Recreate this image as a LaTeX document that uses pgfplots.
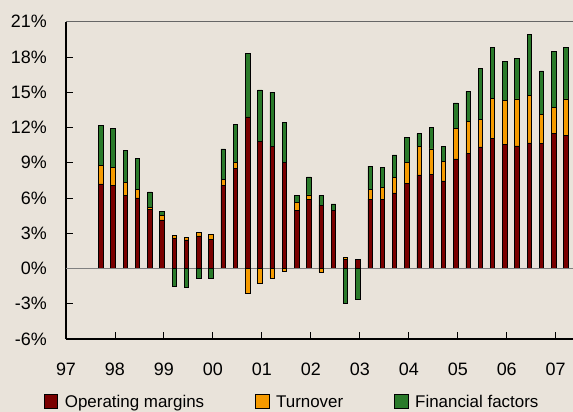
\documentclass[border=0pt]{standalone}
\usepackage{fontspec}
\setmainfont{Liberation Sans}
\usepackage{pgfplots}
\usepackage{pgfplotstable}
\pgfplotsset{compat=1.18}
\definecolor{bg}{HTML}{E9E3DA}
\definecolor{om}{HTML}{7A0000}
\definecolor{tu}{HTML}{F59A00}
\definecolor{ff}{HTML}{2A7A2A}
\pgfplotstableread{
x     om     tp    fp
0.71  7.20   1.60  3.35
0.96  7.10   1.50  3.30
1.21  6.25   1.05  2.75
1.46  6.00   0.75  2.65
1.71  5.00   0.22  1.30
1.96  4.13   0.35  0.40
2.21  2.55   0.25  0
2.46  2.43   0.20  0
2.71  2.77   0.33  0
2.96  2.50   0.42  0
3.21  7.08   0.50  2.60
3.46  8.53   0.50  3.25
3.71  12.90  0     5.40
3.96  10.80  0     4.40
4.21  10.40  0     4.60
4.46  9.04   0     3.37
4.71  4.95   0.68  0.60
4.96  5.91   0.35  1.53
5.21  5.40   0     0.83
5.46  4.92   0     0.57
5.71  0.78   0.17  0
5.96  0.75   0     0
6.21  5.91   0.83  1.98
6.46  5.91   1.00  1.70
6.71  6.43   1.33  1.90
6.96  7.22   1.82  2.13
7.21  7.96   2.44  1.07
7.46  8.02   2.15  1.85
7.71  7.45   1.67  1.28
7.96  9.32   2.58  2.19
8.21  9.80   2.69  2.59
8.46  10.34  2.36  4.34
8.71  11.10  3.38  4.35
8.96  10.54  3.74  3.32
9.21  10.43  4.00  3.46
9.46  10.68  4.06  5.19
9.71  10.62  2.50  3.69
9.96  11.51  2.18  4.80
10.21 11.34  3.09  4.40
}\poscomp
\pgfplotsset{
  common/.style={
    scale only axis, width=507bp, height=317.3bp,
    xmin=0, xmax=10.353, ymin=-6, ymax=21,
    at={(66bp,73bp)}, anchor=south west, clip=false,
  },
  sq/.style={legend image code/.code={\draw[##1,draw=black,line width=0.7bp] (0bp,-6.75bp) rectangle (13.5bp,6.75bp);}},
}
\begin{document}
\begin{tikzpicture}
\useasboundingbox (0,0) rectangle (573bp,412bp);
\clip (0,0) rectangle (573bp,412bp);
\fill[bg] (0,0) rectangle (573bp,412bp);
\begin{axis}[common,
  ybar stacked, bar width=4.4bp,
  axis x line*=bottom, axis y line*=left,
  axis line style={black, line width=1.2bp, -},
  tick align=inside, major tick length=7bp,
  tick style={black, line width=0.9bp},
  xtick={0,...,10}, xticklabels={97,98,99,00,01,02,03,04,05,06,07},
  ytick={-6,-3,...,21}, yticklabels={-6\%,-3\%,0\%,3\%,6\%,9\%,12\%,15\%,18\%,21\%},
  tick label style={font=\fontsize{18}{18}\selectfont, inner sep=0pt},
  yticklabel style={xshift=-19bp},
  xticklabel style={yshift=-24bp},
  legend columns=3,
  legend style={at={(-0.0434,-0.1965)}, anchor=west, draw=none, fill=none,
    inner sep=0pt, outer sep=0pt, font=\fontsize{17}{17}\selectfont,
    nodes={inner sep=0pt, text depth=0pt},
    /tikz/every odd column/.append style={column sep=6.7bp},
    /tikz/every even column/.append style={column sep=51bp}},
  legend cell align=left,
]
\draw[black!50, line width=1.2bp] (axis cs:0,0) -- (axis cs:10.353,0);
\draw[black!60, line width=1.5bp] (axis cs:0,21) -- (axis cs:10.353,21);
\addplot[fill=om, draw=black, line width=0.7bp, sq] table[x=x, y=om] {\poscomp};
\addlegendentry{Operating margins}
\addplot[fill=tu, draw=black, line width=0.7bp, sq] table[x=x, y=tp] {\poscomp};
\addlegendentry{Turnover}
\addplot[fill=ff, draw=black, line width=0.7bp, sq] table[x=x, y=fp] {\poscomp};
\addlegendentry{Financial factors}
\end{axis}
\begin{axis}[common, hide axis, ybar, bar width=4.4bp]
\addplot[fill=tu, draw=black, line width=0.7bp, bar shift=0pt] coordinates {(3.71,-2.1) (3.96,-1.3) (4.21,-0.8) (4.46,-0.27) (5.21,-0.3)};
\addplot[fill=ff, draw=black, line width=0.7bp, bar shift=0pt] coordinates {(2.21,-1.5) (2.46,-1.6) (2.71,-0.85) (2.96,-0.85) (5.71,-2.96) (5.96,-2.65)};
\end{axis}
\end{tikzpicture}
\end{document}
